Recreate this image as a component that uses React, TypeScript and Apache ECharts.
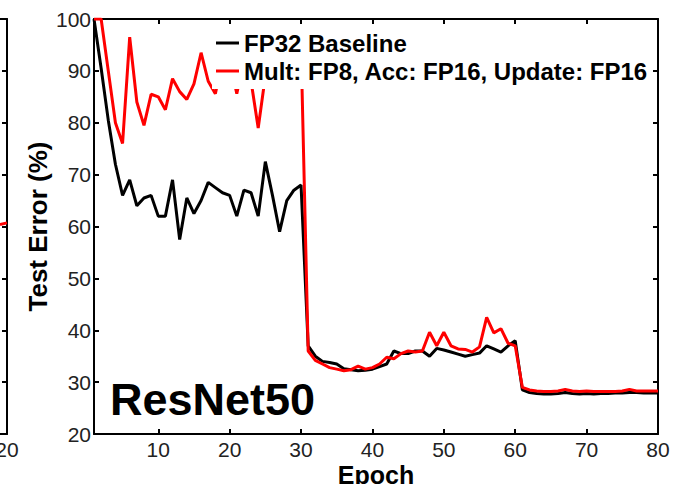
import React, { useEffect, useRef } from "react";
import * as echarts from "echarts";

const epochs = Array.from({ length: 80 }, (_, i) => i + 1);

const baseline = [
  100, 90.5, 80.5, 72, 66, 69, 64, 65.5, 66, 62,
  62, 69, 57.5, 65.5, 62.5, 65, 68.5, 67.5, 66.5, 66,
  62, 67, 66.5, 62, 72.5, 66, 59, 65, 67, 68,
  37, 35, 34, 33.8, 33.5, 32.6, 32.4, 32.2, 32.3, 32.5,
  33, 33.5, 36, 35.5, 35.5, 36, 36, 35, 36.5, 36.2,
  35.8, 35.4, 35, 35.3, 35.6, 37, 36.4, 35.8, 37, 38,
  28.5, 28, 27.8, 27.7, 27.7, 27.8, 28, 27.8, 27.7, 27.8,
  27.7, 27.8, 27.8, 27.9, 27.9, 28, 28, 27.9, 27.9, 27.9,
];

const fp8 = [
  100, 100, 90, 80, 76, 96.5, 84, 79.5, 85.5, 85,
  82.5, 88.5, 86, 84.5, 87.5, 93.5, 88, 85.6, 92, 92,
  85.6, 92, 88, 79, 89, 93, 90, 94, 92, 95,
  36, 34.2, 33.5, 32.8, 32.5, 32.2, 32.4, 33.1, 32.5, 32.8,
  33.5, 34.8, 34.5, 35.5, 36, 35.8, 36, 39.6, 37, 39.6,
  37, 36.4, 36.3, 35.8, 36.8, 42.5, 39.5, 40.3, 37.5, 37,
  29, 28.5, 28.3, 28.2, 28.2, 28.3, 28.6, 28.3, 28.2, 28.3,
  28.2, 28.2, 28.2, 28.2, 28.3, 28.6, 28.3, 28.3, 28.3, 28.3,
];

// tail of the neighbouring (cropped) panel on the left
const prevEpochs = [19.6, 20];
const prevValues = [60.4, 60.7];
const prevTicks = [20];

const xTicks = [10, 20, 30, 40, 50, 60, 70, 80];
const seriesNames = ["FP32 Baseline", "Mult: FP8, Acc: FP16, Update: FP16"];

const FONT = "Liberation Sans, Arial, Helvetica, sans-serif";

export default function App() {
  const ref = useRef<HTMLDivElement>(null);
  useEffect(() => {
    if (!ref.current) return;
    const chart = echarts.init(ref.current, null, { renderer: "svg" });
    const axisLine = { show: true, lineStyle: { color: "#000", width: 2 } };
    const tickStyle = { show: true, inside: true, length: 5, lineStyle: { color: "#000", width: 2 } };
    const labelStyle = { color: "#222", fontSize: 21, fontFamily: FONT };
    chart.setOption({
      animation: false,
      backgroundColor: "#fff",
      grid: [
        { left: 94, top: 19, width: 564, height: 415, containLabel: false, outerBoundsMode: "none" },
        { left: 0, top: 19, width: 7, height: 415, containLabel: false, outerBoundsMode: "none" },
      ],
      xAxis: [
        {
          type: "value", gridIndex: 0, min: 1, max: 80, position: "bottom",
          axisLine, splitLine: { show: false },
          axisTick: { ...tickStyle, customValues: xTicks },
          axisLabel: { ...labelStyle, margin: 5, customValues: xTicks },
          name: "Epoch", nameLocation: "middle", nameGap: 28, nameMoveOverlap: false,
          nameTextStyle: { fontSize: 25, fontWeight: "bold", color: "#000", fontFamily: FONT },
        },
        {
          type: "value", gridIndex: 0, min: 1, max: 80, position: "top",
          axisLine, splitLine: { show: false },
          axisTick: { ...tickStyle, customValues: xTicks },
          axisLabel: { show: false },
        },
        {
          type: "value", gridIndex: 1, min: 19.6, max: 20, position: "bottom",
          axisLine, splitLine: { show: false },
          axisTick: { show: false },
          axisLabel: { ...labelStyle, margin: 5, customValues: prevTicks },
        },
        {
          type: "value", gridIndex: 1, min: 19.6, max: 20, position: "top",
          axisLine, splitLine: { show: false },
          axisTick: { show: false }, axisLabel: { show: false },
        },
      ],
      yAxis: [
        {
          type: "value", gridIndex: 0, min: 20, max: 100, interval: 10, position: "left",
          axisLine, splitLine: { show: false }, axisTick: tickStyle,
          axisLabel: { ...labelStyle, margin: 3 },
          name: "Test Error (%)", nameLocation: "middle", nameGap: 43, nameRotate: 90,
          nameMoveOverlap: false,
          nameTextStyle: { fontSize: 26, fontWeight: "bold", color: "#000", fontFamily: FONT },
        },
        {
          type: "value", gridIndex: 0, min: 20, max: 100, interval: 10, position: "right",
          axisLine, splitLine: { show: false }, axisTick: tickStyle, axisLabel: { show: false },
        },
        {
          type: "value", gridIndex: 1, min: 20, max: 100, interval: 10, position: "right",
          axisLine, splitLine: { show: false }, axisTick: tickStyle, axisLabel: { show: false },
        },
      ],
      legend: {
        data: seriesNames,
        orient: "vertical",
        left: 212,
        top: 27,
        backgroundColor: "#fff",
        padding: [4, 2, 6, 4],
        icon: "rect",
        itemWidth: 23,
        itemHeight: 3,
        itemGap: 4,
        textStyle: { fontSize: 24, fontWeight: "bold", color: "#000", fontFamily: FONT, lineHeight: 23 },
      },
      graphic: [
        {
          type: "text",
          z: 10,
          style: {
            x: 110, y: 399, text: "ResNet50", verticalAlign: "middle",
            fontSize: 45, fontWeight: "bold", fontFamily: FONT, fill: "#000",
          },
        },
      ],
      series: [
        {
          name: seriesNames[0], type: "line", xAxisIndex: 0, yAxisIndex: 0,
          data: epochs.map((e, i) => [e, baseline[i]]),
          showSymbol: false, symbol: "none",
          lineStyle: { color: "#000", width: 3 }, itemStyle: { color: "#000" },
        },
        {
          name: seriesNames[1], type: "line", xAxisIndex: 0, yAxisIndex: 0,
          data: epochs.map((e, i) => [e, fp8[i]]),
          showSymbol: false, symbol: "none",
          lineStyle: { color: "#ff0000", width: 3 }, itemStyle: { color: "#ff0000" },
        },
        {
          name: "prev-panel", type: "line", xAxisIndex: 2, yAxisIndex: 2,
          data: prevEpochs.map((e, i) => [e, prevValues[i]]),
          showSymbol: false, symbol: "none",
          lineStyle: { color: "#ff0000", width: 3 }, itemStyle: { color: "#ff0000" },
        },
      ],
    });
    return () => chart.dispose();
  }, []);
  return (
    <div
      ref={ref}
      style={{ position: "fixed", left: 0, top: 0, width: 679, height: 484, background: "#fff" }}
    />
  );
}
